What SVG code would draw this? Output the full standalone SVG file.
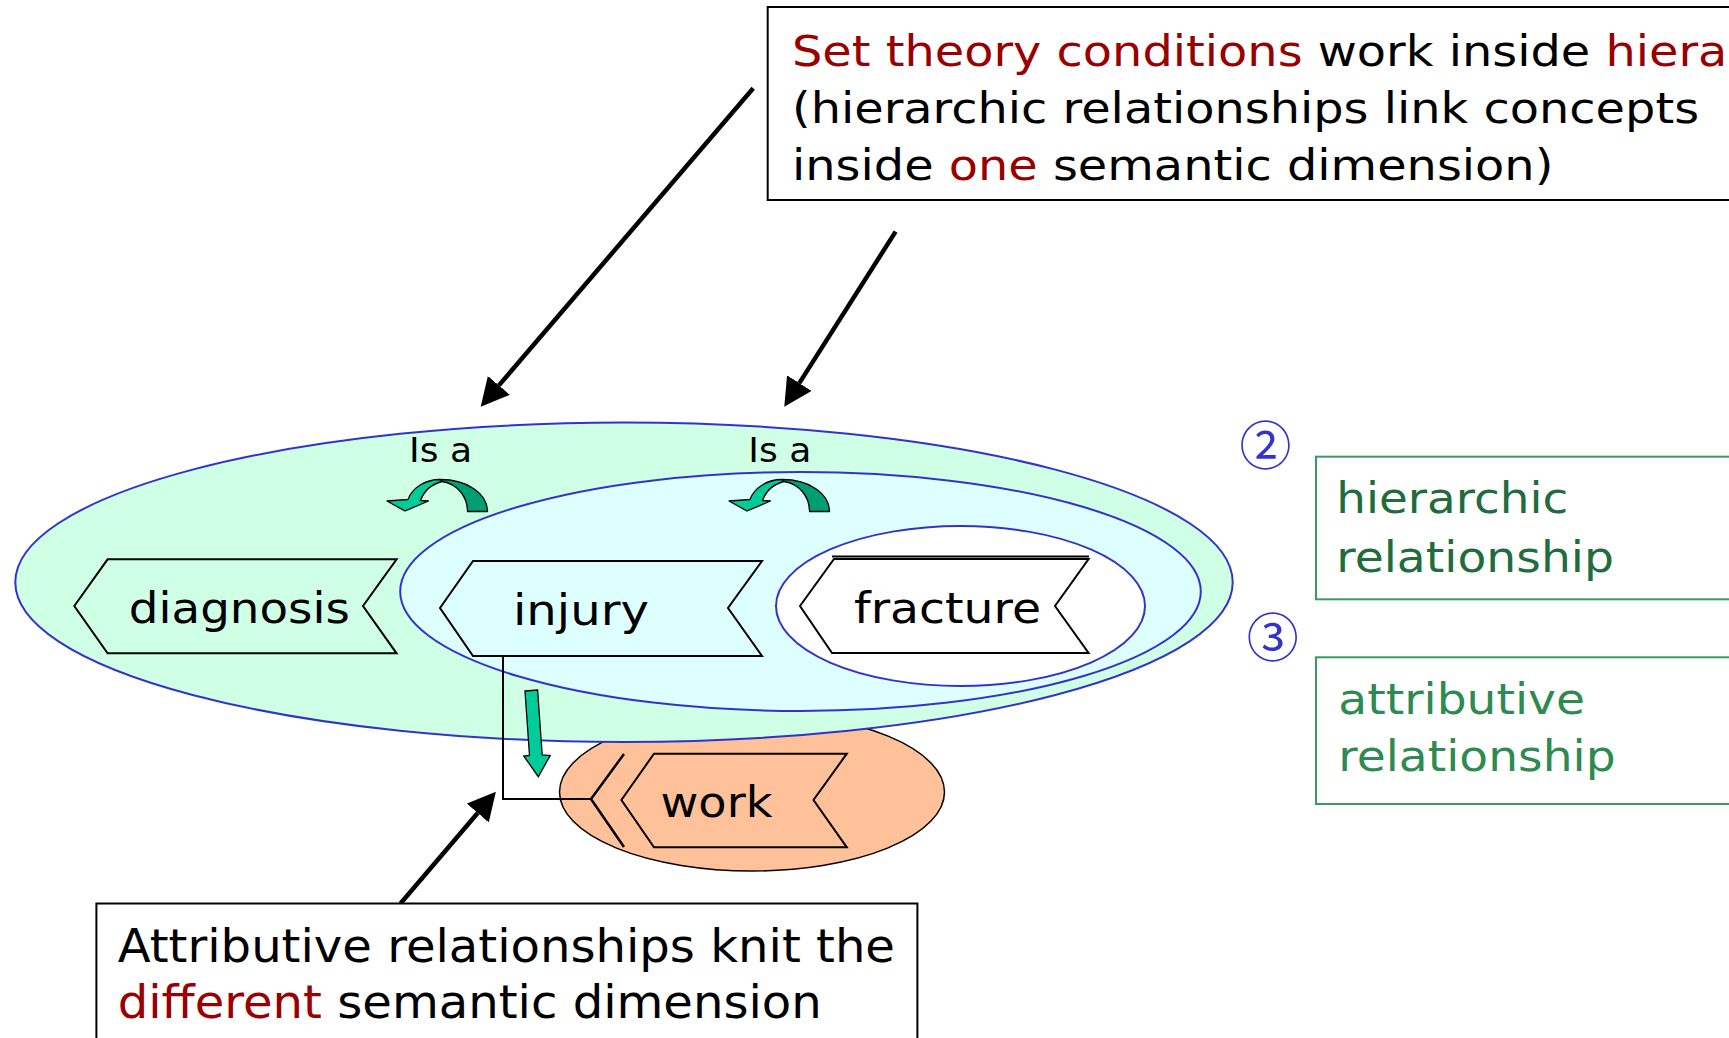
<svg xmlns="http://www.w3.org/2000/svg" width="1729" height="1038" viewBox="0 0 1729 1038">
<style>
  text { font-family: "DejaVu Sans", Verdana, sans-serif; }
  .set { stroke: #3333CC; stroke-width: 2; }
  .shape { stroke: #000; stroke-width: 2; stroke-linejoin: miter; }
  .lbl { font-size: 43px; fill: #000; text-anchor: middle; }
  .isa { font-size: 34px; fill: #000; }
  .note { fill: #000; }
  .red { fill: #990000; }
  .ptr { stroke: #000; stroke-width: 4.5; fill: none; marker-end: url(#head); }
  .leg { fill: #fff; stroke: #3A9A63; stroke-width: 2; }
  .legtxt { font-size: 43px; }
  .num { font-family: "Noto Sans CJK JP", "DejaVu Sans", sans-serif; font-size: 52px; fill: #3333CC; text-anchor: middle; }
  .curl-light { fill: #00CC99; stroke: #000; stroke-width: 1.3; stroke-linejoin: round; }
  .curl-dark { fill: #009E72; stroke: #000; stroke-width: 1.3; stroke-linejoin: round; }
</style>
<defs>
  <marker id="head" markerUnits="userSpaceOnUse" viewBox="0 0 28 29" refX="0" refY="14.5" markerWidth="28" markerHeight="29" orient="auto">
    <path d="M0,0 L28,14.5 L0,29 Z" fill="#000"/>
  </marker>
  <g id="curl">
    <path class="curl-dark" d="M440,479.5 C468,479.5 487.5,494 487.5,511.5 L467.5,511.5 C467.5,497 458,484 442,481.5 Z"/>
    <path class="curl-light" d="M440,479.5 C425,479.5 412,488 408,499.5 L387,501 L405,511 L428.5,501 L420.5,500.5 C424,491 432,484 442,481.5 Z"/>
  </g>
</defs>
<rect width="1729" height="1038" fill="#fff"/>

<g id="work">
  <ellipse cx="752" cy="792" rx="192.5" ry="79" fill="#FFC199" stroke="#000" stroke-width="1.5"/>
</g>

<g id="hierarchy-outer">
  <ellipse class="set" cx="624" cy="582.3" rx="608.7" ry="159.7" fill="#CFFFE5"/>
</g>
<g id="hierarchy-inner">
  <ellipse class="set" cx="800.5" cy="591.5" rx="400.3" ry="119.5" fill="#DDFFFF"/>
</g>
<g id="hierarchy-fracture">
  <ellipse class="set" cx="960.5" cy="606" rx="184.5" ry="80" fill="#fff"/>
</g>

<g id="diagnosis">
  <polygon class="shape" points="74.3,606 107.6,559.3 396.6,559.3 363,606 396.6,653.3 107.6,653.3" fill="#CFFFE5"/>
  <text class="lbl" x="239.3" y="623" textLength="221" lengthAdjust="spacingAndGlyphs">diagnosis</text>
</g>
<g id="injury">
  <polygon class="shape" points="440,608 473,561 762,561 728,608 762,656 473,656" fill="#DDFFFF"/>
  <text class="lbl" x="581" y="625" textLength="136" lengthAdjust="spacingAndGlyphs">injury</text>
</g>
<g id="fracture">
  <polygon class="shape" points="800,606 834,559 1088.6,559 1055,606 1088.6,653 832,653" fill="#fff"/>
  <line x1="832" y1="556.5" x2="1089" y2="556.5" stroke="#000" stroke-width="1.8"/>
  <text class="lbl" x="947.5" y="623" textLength="187" lengthAdjust="spacingAndGlyphs">fracture</text>
</g>
<g id="work-node">
  <polygon class="shape" points="621.4,800 654,753.7 846.8,753.7 813.5,800 846.8,847.3 654,847.3" fill="#FFC199"/>
  <text class="lbl" x="716.5" y="817" textLength="112" lengthAdjust="spacingAndGlyphs">work</text>
</g>

<g id="connectors">
  <use href="#curl"/>
  <use href="#curl" transform="translate(342,0)"/>
  <text class="isa" x="409" y="461.7" textLength="63" lengthAdjust="spacingAndGlyphs">Is a</text>
  <text class="isa" x="748.3" y="461.7" textLength="63" lengthAdjust="spacingAndGlyphs">Is a</text>
  <polyline points="503,656 503,799 591,799" fill="none" stroke="#000" stroke-width="2"/>
  <polyline points="624,754 591,799 624,847" fill="none" stroke="#000" stroke-width="2.5"/>
  <polygon points="525,691 537.6,690 542.2,755 550.2,755.5 538.3,776.7 523.8,756 529.5,755.5" fill="#00CC99" stroke="#000" stroke-width="1.3"/>
  <line class="ptr" x1="753.2" y1="88.2" x2="498.9" y2="385.4"/>
  <line class="ptr" x1="895.6" y1="231.6" x2="799.3" y2="383.1"/>
  <line class="ptr" x1="400.5" y1="903.5" x2="477.7" y2="813"/>
</g>

<g id="note-top">
  <rect x="767.7" y="7" width="1000" height="193" fill="#fff" stroke="#000" stroke-width="2"/>
  <g transform="translate(792,0) scale(1.112,1)" font-size="43">
    <text class="note" x="0" y="66.5"><tspan class="red">Set theory conditions</tspan> work inside <tspan class="red">hiera</tspan></text>
    <text class="note" x="0" y="123.3">(hierarchic relationships link concepts</text>
    <text class="note" x="0" y="180">inside <tspan class="red">one</tspan> semantic dimension)</text>
  </g>
</g>

<g id="note-bottom">
  <rect x="96.4" y="903.5" width="821" height="200" fill="#fff" stroke="#000" stroke-width="2"/>
  <g transform="translate(117.7,0) scale(1.046,1)" font-size="46">
    <text class="note" x="0" y="962.3">Attributive relationships knit the</text>
    <text class="note" x="0" y="1018.3"><tspan class="red">different</tspan> semantic dimension</text>
  </g>
</g>

<g id="legend-hierarchic">
  <text class="num" x="1265.5" y="464.5">②</text>
  <rect class="leg" x="1316" y="456.7" width="420" height="142.6"/>
  <text class="legtxt" x="1336.3" y="513.3" fill="#226B3D" textLength="232" lengthAdjust="spacingAndGlyphs">hierarchic</text>
  <text class="legtxt" x="1336.3" y="571.7" fill="#226B3D" textLength="277.7" lengthAdjust="spacingAndGlyphs">relationship</text>
</g>
<g id="legend-attributive">
  <text class="num" x="1272.7" y="656.5">③</text>
  <rect class="leg" x="1316" y="657.3" width="420" height="146.7"/>
  <text class="legtxt" x="1338.3" y="714" fill="#2E8A50" textLength="246.7" lengthAdjust="spacingAndGlyphs">attributive</text>
  <text class="legtxt" x="1338.3" y="770.7" fill="#2E8A50" textLength="277.3" lengthAdjust="spacingAndGlyphs">relationship</text>
</g>
</svg>
